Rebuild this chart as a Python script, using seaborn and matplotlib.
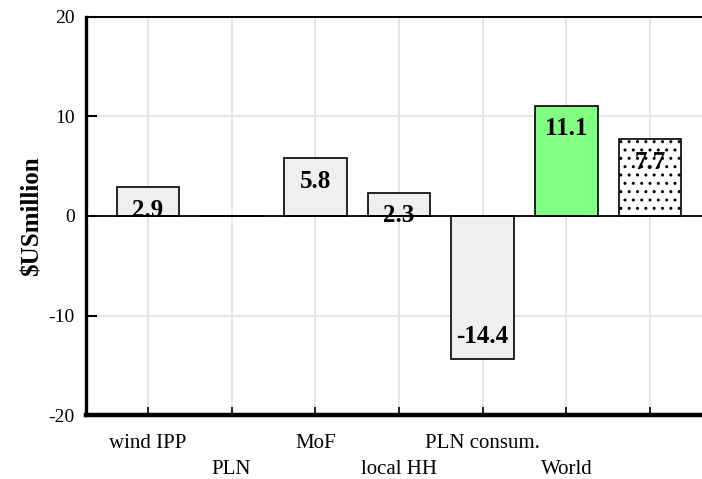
import matplotlib
matplotlib.use("Agg")
import matplotlib.pyplot as plt
import seaborn as sns
import numpy as np

categories = ["wind IPP", "PLN", "MoF", "local HH", "PLN consum.", "World", ""]
values = [2.9, 0.0, 5.8, 2.3, -14.4, 11.1, 7.7]
bar_colors = ["#efefef", "#efefef", "#efefef", "#efefef", "#efefef", "#83ff83", "#ffffff"]
yticks = [-20, -10, 0, 10, 20]

sns.set_theme(style="white")
plt.rcParams["font.family"] = ["Liberation Serif", "DejaVu Serif"]
plt.rcParams["hatch.linewidth"] = 1.0
plt.rcParams["hatch.color"] = "#555555"
for k in ["text.color", "axes.labelcolor", "xtick.color", "ytick.color"]:
    plt.rcParams[k] = "black"

fig = plt.figure(figsize=(7.02, 4.79), dpi=100)
ax = fig.add_axes([86/702, 1-415/479, (712-86)/702, (415-17)/479])

sns.barplot(x=categories, y=values, hue=categories, palette=bar_colors, legend=False,
            saturation=1, edgecolor="black", linewidth=1.2, width=0.75, ax=ax, zorder=3)

patches = [p for p in ax.patches]
patches[-1].set_hatch("..")
patches[-1].set_edgecolor("black")

ax.set_ylim(-20, 20)
ax.set_xlim(-0.74, 6.74)
ax.set_yticks(yticks)
ax.set_yticklabels([str(t) for t in yticks], fontsize=14)

ax.grid(True, axis="both", color="#e0e0e0", linewidth=1.2, zorder=0)
ax.set_axisbelow(True)
ax.axhline(0, color="black", linewidth=1.3, zorder=4)

ax.set_xticks(range(len(categories)))
ax.set_xticklabels([""] * len(categories))
trans = ax.get_xaxis_transform()
for i, c in enumerate(categories):
    if not c:
        continue
    yy = -0.072 if i % 2 == 0 else -0.138
    ax.text(i, yy, c, transform=trans, ha="center", va="center", fontsize=15,
            color="black")

ax.set_xlabel("")
ax.set_ylabel("$USmillion", fontsize=18, fontweight="bold", labelpad=4, color="black")

ax.tick_params(axis="x", direction="in", length=6, width=1.2, color="black", bottom=True)
ax.tick_params(axis="y", direction="in", length=8, width=1.5, color="black",
               labelcolor="black", pad=8, left=True)

for s, lw in [("left", 2.4), ("bottom", 3.2), ("top", 1.4)]:
    ax.spines[s].set_color("black")
    ax.spines[s].set_linewidth(lw)
ax.spines["right"].set_visible(False)

for i, v in enumerate(values):
    if v == 0:
        continue
    y = v - np.sign(v) * 2.3
    ax.text(i, y, f"{v:.1f}", ha="center", va="center", fontsize=18,
            fontweight="bold", color="black", zorder=5)

fig.savefig("out.png", dpi=100)
